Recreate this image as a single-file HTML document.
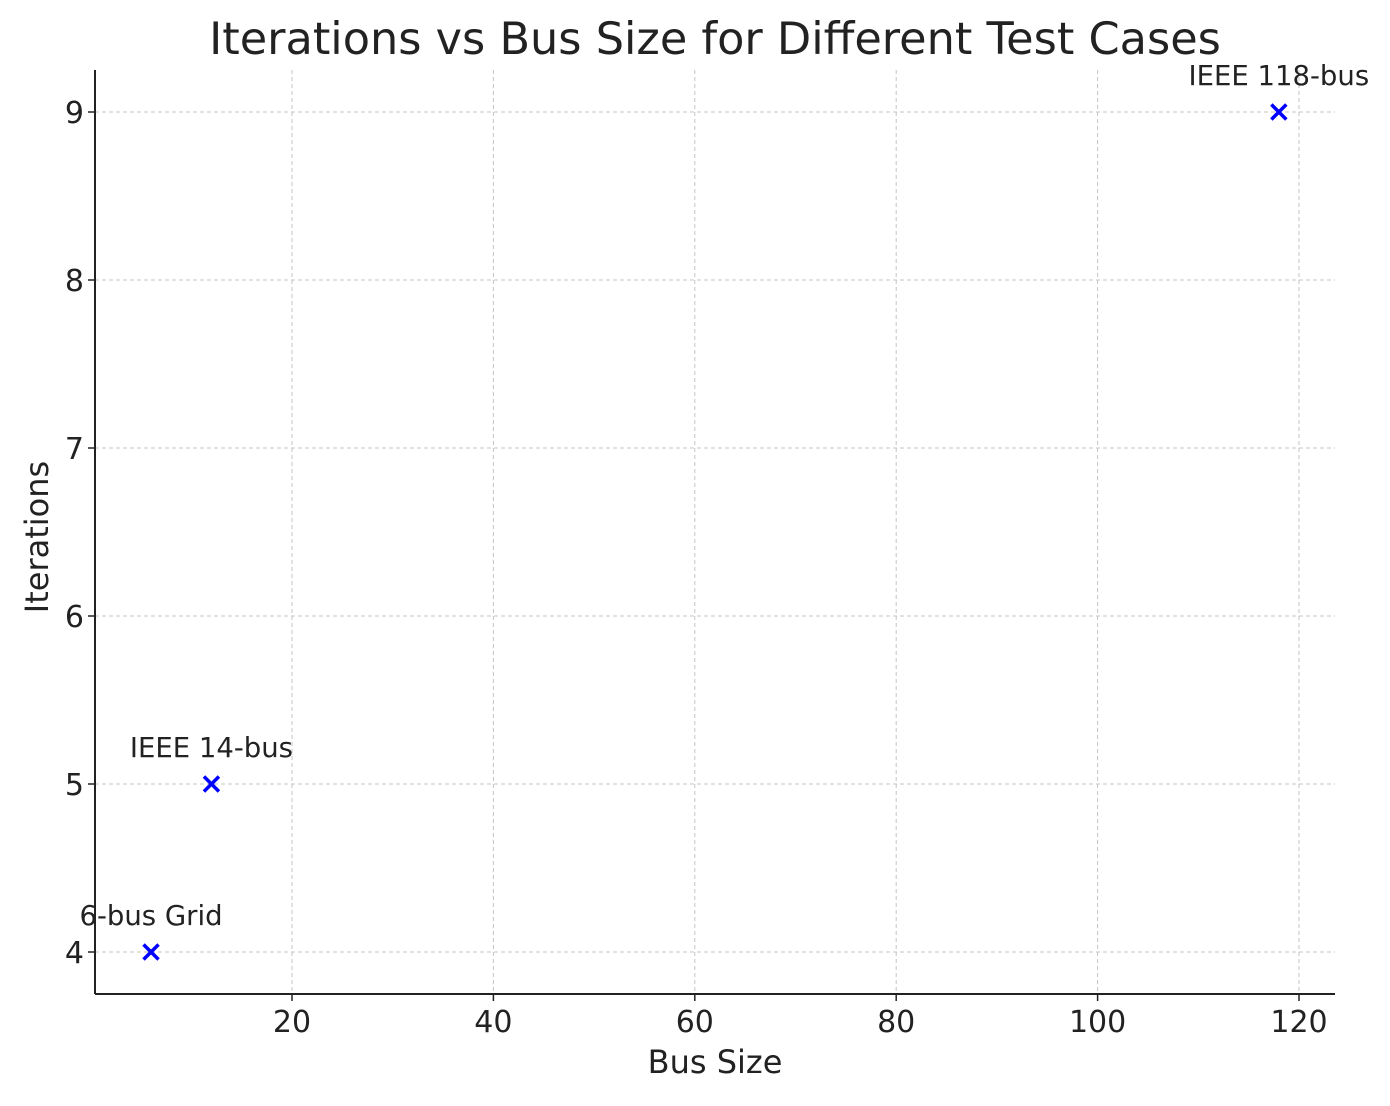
<!DOCTYPE html>
<html><head><meta charset="utf-8"><style>
body{margin:0;background:#fff}
svg text{font-family:"DejaVu Sans","Liberation Sans",sans-serif;fill:#222}
</style></head><body>
<svg id="chart" width="1390" height="1101" xmlns="http://www.w3.org/2000/svg">
<text x="715" y="54" font-size="44.6" text-anchor="middle" fill="#333">Iterations vs Bus Size for Different Test Cases</text>
<g id="grid"></g><g id="ticks"></g><g id="marks"></g>
<line x1="95" y1="70" x2="95" y2="994" stroke="#222" stroke-width="2"/>
<line x1="95" y1="994" x2="1335" y2="994" stroke="#222" stroke-width="2"/>
<text x="715" y="1073" font-size="32" text-anchor="middle">Bus Size</text>
<text transform="translate(48,537) rotate(-90)" font-size="32" text-anchor="middle">Iterations</text>
</svg>
<script>
const labels=["6-bus Grid","IEEE 14-bus","IEEE 118-bus"];
const busSize=[6,12,118];
const iterations=[4,5,9];
const xTicks=[20,40,60,80,100,120];
const yTicks=[4,5,6,7,8,9];
const NS="http://www.w3.org/2000/svg";
const sx=v=>90.6+(v)*10.07;
const sy=v=>952-(v-4)*168;
function mk(tag,attrs,parent){const e=document.createElementNS(NS,tag);for(const k in attrs)e.setAttribute(k,attrs[k]);document.getElementById(parent).appendChild(e);return e;}
xTicks.forEach(t=>{
  const g=mk('line',{x1:sx(t),x2:sx(t),y1:70,y2:994,stroke:'#c4c4c4','stroke-dasharray':'4,3'},'grid');
  
  
  const tk=mk('line',{x1:sx(t),x2:sx(t),y1:994,y2:1001,stroke:'#222','stroke-width':1.5},'ticks');
  
  
  const tx=mk('text',{x:sx(t),y:1032,'font-size':30,'text-anchor':'middle'},'ticks');tx.textContent=t;
  
  
});
yTicks.forEach(t=>{
  const g=mk('line',{x1:95,x2:1335,y1:sy(t),y2:sy(t),stroke:'#c4c4c4','stroke-dasharray':'4,3'},'grid');
  
  
  const tk=mk('line',{x1:88,x2:95,y1:sy(t),y2:sy(t),stroke:'#222','stroke-width':1.5},'ticks');
  
  
  const tx=mk('text',{x:84,y:sy(t)+11,'font-size':30,'text-anchor':'end'},'ticks');tx.textContent=t;
  
  
});
busSize.forEach((b,i)=>{
  const x=sx(b),y=sy(iterations[i]),r=7.5;
  const p=mk('path',{d:`M${x-r},${y-r}L${x+r},${y+r}M${x-r},${y+r}L${x+r},${y-r}`,stroke:'#0000ff','stroke-width':3.5},'marks');
  
  
  const t=mk('text',{x:x,y:y-27,'font-size':27.5,'text-anchor':'middle',fill:'#333'},'marks');t.textContent=labels[i];
  
  
});
</script>
</body></html>
